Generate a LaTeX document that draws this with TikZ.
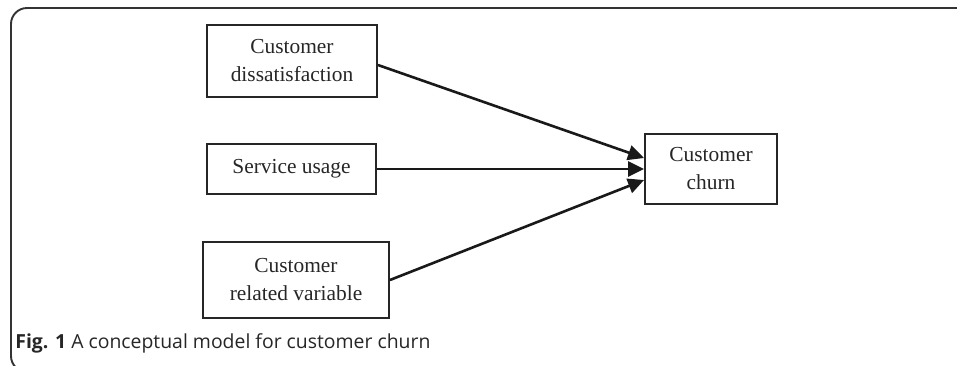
\documentclass[tikz,border=0pt]{standalone}
\usepackage{fontspec}
\setmainfont{Liberation Serif}
\newfontfamily\capfont{Open Sans}
\usetikzlibrary{arrows.meta, positioning}

\begin{document}
\begin{tikzpicture}[x=0.5pt,y=-0.5pt,
    factor/.style={draw=black!85, line width=0.95pt, align=center,
        font=\fontsize{10.7}{14}\selectfont, inner sep=0pt},
    link/.style={draw=black!90, line width=1.3pt,
        -{Triangle[length=8pt,width=7.5pt]}},
    every node/.style={text=black!85}]
    \useasboundingbox (0,0) rectangle (957,365);

    % frame of the figure
    \draw[black!80, line width=0.95pt, rounded corners=8pt]
        (970,8) -| (11,372) -- (40,372);

    % the factors
    \node[factor, minimum width=85pt, minimum height=36pt] (dissat) at (292,61)
        {Customer\\dissatisfaction};
    \node[factor, minimum width=84.5pt, minimum height=25pt] (usage) at (291.5,169)
        {Service usage};
    \node[factor, minimum width=93pt, minimum height=38pt] (related) at (296,280)
        {Customer\\related variable};
    \node[factor, minimum width=66pt, minimum height=35pt] (churn) at (711,169)
        {Customer\\churn};

    % links
    \draw[link] ([yshift=-2pt]dissat.east) -- ([yshift=5.5pt]churn.west);
    \draw[link] (usage.east) -- (churn.west);
    \draw[link] (related.east) -- ([yshift=-5.5pt]churn.west);

    % caption
    \node[anchor=base west, inner sep=0pt, font=\capfont\fontsize{9.7}{12}\selectfont] (cap)
        at (15,348) {\textbf{Fig. 1} A conceptual model for customer churn};
\end{tikzpicture}
\end{document}
